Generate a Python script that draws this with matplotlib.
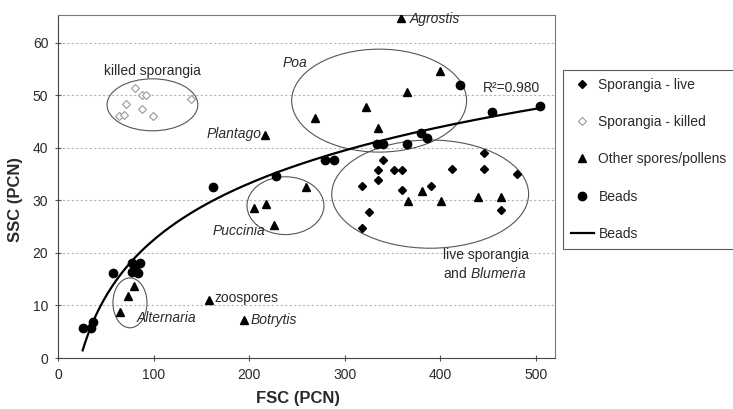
import numpy as np
import matplotlib
matplotlib.use('Agg')
import matplotlib.pyplot as plt
from matplotlib.patches import Ellipse

plt.rcParams['font.family'] = ['Liberation Sans', 'DejaVu Sans']
plt.rcParams['mathtext.fontset'] = 'custom'
plt.rcParams['mathtext.rm'] = 'Liberation Sans'
plt.rcParams['mathtext.it'] = 'Liberation Sans:italic'

# sporangia - live
live_x = [446, 480, 446, 412, 340, 335, 352, 359.5, 335, 317.7, 359.5, 389.8, 325.6, 317.7, 463.4]
live_y = [39, 35, 35.9, 35.9, 37.7, 35.8, 35.8, 35.8, 33.8, 32.8, 31.9, 32.8, 27.8, 24.7, 28.2]

# sporangia - killed
killed_x = [80.5, 87.6, 92, 139, 71, 87.6, 64, 69.2, 99]
killed_y = [51.4, 50.1, 50.1, 49.3, 48.3, 47.4, 46.1, 46.3, 46.1]

# other spores / pollens
other_x = [358.8, 399.6, 365.4, 321.9, 268.5, 335, 217, 259.6, 205, 217.6, 226,
           380.4, 366.4, 400.6, 439.7, 463.4, 64.9, 73.5, 79.5, 158.3, 194.6]
other_y = [64.7, 54.7, 50.6, 47.8, 45.6, 43.8, 42.4, 32.5, 28.5, 29.4, 25.4,
           31.8, 29.8, 29.8, 30.7, 30.7, 8.8, 11.8, 13.7, 11, 7.2]

# beads
bead_x = [25.8, 34.2, 36.9, 57.8, 77, 77, 85.8, 84, 80.5, 162, 228, 279, 289,
          334, 340, 365, 380, 386, 420.5, 454, 504]
bead_y = [5.8, 5.8, 6.9, 16.1, 18, 16.4, 18, 16.1, 17.1, 32.6, 34.7, 37.7, 37.7,
          40.8, 40.8, 40.8, 42.8, 41.8, 52, 46.8, 48]

# logarithmic trend line through the beads
coef = np.polyfit(np.log(bead_x), bead_y, 1)
fit_x = np.linspace(min(bead_x), max(bead_x), 200)
fit_y = coef[0] * np.log(fit_x) + coef[1]

fig = plt.figure(figsize=(7.33, 4.09), dpi=100)
ax = fig.add_axes([58 / 733, 1 - 358 / 409, (555 - 58) / 733, (358 - 15) / 409])

txt = '#2a2a2a'
h1, = ax.plot(live_x, live_y, 'D', color='black', ms=4.5, label='Sporangia - live', zorder=3)
h2, = ax.plot(killed_x, killed_y, 'D', mfc='white', mec='#999999', mew=0.8, ms=4.5,
              label='Sporangia - killed', zorder=3)
h3, = ax.plot(other_x, other_y, '^', color='black', ms=6, label='Other spores/pollens', zorder=3)
h4, = ax.plot(bead_x, bead_y, 'o', color='black', ms=6, label='Beads', zorder=3)
h5, = ax.plot(fit_x, fit_y, '-', color='black', lw=1.6, label='Beads', zorder=2)

# group ellipses
ells = [(98.8, 48.2, 95, 9.9), (336, 49, 183, 19.6), (389.4, 31.2, 206, 20.6),
        (238, 29, 80.5, 11), (75.3, 10.5, 35.6, 9.5)]
for cx, cy, w, h in ells:
    ax.add_patch(Ellipse((cx, cy), w, h, fill=False, ec='#555555', lw=0.8, zorder=1))

fs = 10
ax.text(98.3, 54.7, 'killed sporangia', ha='center', va='center', fontsize=fs, color=txt)
ax.text(248, 56.2, 'Poa', ha='center', va='center', fontsize=fs, style='italic', color=txt)
ax.text(444.5, 51.4, 'R²=0.980', ha='left', va='center', fontsize=fs, color=txt)
ax.text(368, 64.6, 'Agrostis', ha='left', va='center', fontsize=fs, style='italic', color=txt)
ax.text(213, 42.6, 'Plantago', ha='right', va='center', fontsize=fs, style='italic', color=txt)
ax.text(162, 24.1, 'Puccinia', ha='left', va='center', fontsize=fs, style='italic', color=txt)
ax.text(402.7, 17.8, 'live sporangia\nand $\\it{Blumeria}$', ha='left', va='center',
        fontsize=fs, color=txt, linespacing=1.3)
ax.text(164, 11.4, 'zoospores', ha='left', va='center', fontsize=fs, color=txt)
ax.text(201, 7.2, 'Botrytis', ha='left', va='center', fontsize=fs, style='italic', color=txt)
ax.text(82.6, 7.6, 'Alternaria', ha='left', va='center', fontsize=fs, style='italic', color=txt)

ax.set_xlim(0, 520)
ax.set_ylim(0, 65.3)
ax.set_xticks(range(0, 501, 100))
ax.set_yticks(range(0, 61, 10))
ax.tick_params(direction='inout', length=4, width=0.8, colors='#555555',
               labelcolor=txt, labelsize=10, pad=5)
for y in range(10, 61, 10):
    ax.axhline(y, color='#b5b5b5', lw=0.8, ls=(0, (2, 2)), zorder=0)
for s in ax.spines.values():
    s.set_color('#777777')
    s.set_linewidth(0.8)
ax.spines['left'].set_color('#444444')
ax.spines['bottom'].set_color('#444444')

fig.text(298 / 733, 1 - 398 / 409, 'FSC (PCN)', ha='center', va='center',
         fontsize=12, fontweight='bold', color=txt)
fig.text(16 / 733, 1 - 200 / 409, 'SSC (PCN)', ha='center', va='center', rotation=90,
         fontsize=12, fontweight='bold', color=txt)

leg = fig.legend(handles=[h1, h2, h3, h4, h5], loc='upper left',
                 bbox_to_anchor=(563 / 733, 1 - 70 / 409), borderaxespad=0,
                 fontsize=10, labelspacing=1.68, handlelength=1.7, handletextpad=0.3,
                 borderpad=0.55, numpoints=1, fancybox=False, frameon=True)
leg.get_frame().set_edgecolor('#333333')
leg.get_frame().set_linewidth(0.8)
for t in leg.get_texts():
    t.set_color(txt)

fig.savefig('out.png', dpi=100)
